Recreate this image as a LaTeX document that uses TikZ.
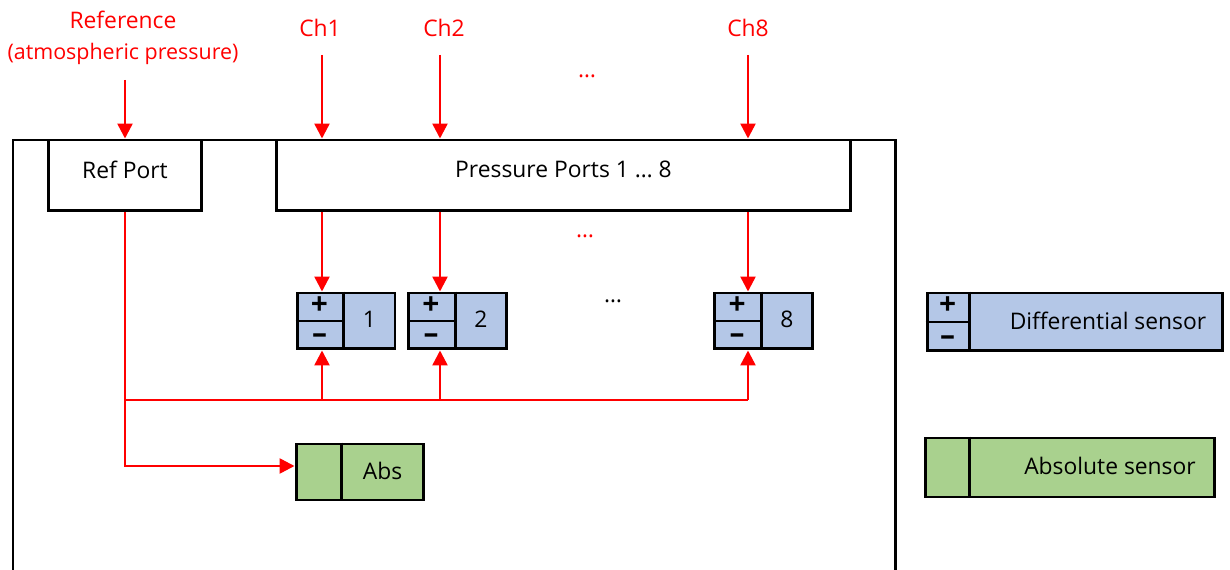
\documentclass[tikz,border=0pt]{standalone}
\usepackage{fontspec}
\setmainfont{Open Sans}
\usetikzlibrary{arrows.meta,calc}
\definecolor{arr}{RGB}{255,0,0}
\definecolor{dblue}{RGB}{180,199,231}
\definecolor{agreen}{RGB}{169,209,142}
\tikzset{
  box/.style={draw=black,line width=1.7pt,inner sep=0pt},
  lbl/.style={text=arr,font=\fontsize{13}{18}\selectfont,align=center},
  txt/.style={font=\fontsize{13}{16}\selectfont},
  pipe/.style={draw=arr,line width=1.4pt},
  parrow/.style={pipe,-{Triangle[width=8.5pt,length=8.5pt]}},
  sensor/.style={box,fill=dblue,minimum width=1.96cm,minimum height=1.12cm},
  abssensor/.style={box,fill=agreen,minimum width=2.56cm,minimum height=1.12cm},
  sign/.style={font=\fontsize{17}{18}\selectfont\bfseries,inner sep=0pt}
}
\begin{document}
\begin{tikzpicture}[x=0.02cm,y=-0.02cm]
\useasboundingbox (0,0) rectangle (1230,570);
\begin{scope}
\clip (0,0) rectangle (1230,570);
\draw[line width=1.7pt] (13,600) -- (13,140) -- (895,140) -- (895,600);
\end{scope}

% ports
\node[box,minimum width=3.08cm,minimum height=1.42cm,fill=white] (ref) at (125,175.5) {};
\node[txt] at ($(ref.center)+(0,-6)$) {Ref Port};
\node[box,minimum width=11.5cm,minimum height=1.42cm,fill=white] (pp) at (563.5,175.5) {};
\node[txt] at ($(pp.center)+(0,-6)$) {Pressure Ports 1 … 8};

% input labels
\node[lbl] (reflbl) at (123,38) {Reference\\{\fontsize{12.2}{18}\selectfont(atmospheric pressure)}};
\node[lbl] (ch1) at (320,28) {Ch1};
\node[lbl] (ch2) at (444,28) {Ch2};
\node[lbl] (ch8) at (748,28) {Ch8};
\node[lbl] (dots1) at (587,76) {…};
\node[lbl] (dots2) at (585,236) {…};
\node[txt] (dots3) at (613,301) {…};

\coordinate (rin) at (125,80);
\coordinate (c1in) at (322,55);
\coordinate (c2in) at (440,55);
\coordinate (c8in) at (748,55);
\draw[parrow] (rin) -- (rin |- ref.north);
\draw[parrow] (c1in) -- (c1in |- pp.north);
\draw[parrow] (c2in) -- (c2in |- pp.north);
\draw[parrow] (c8in) -- (c8in |- pp.north);

% sensors
\foreach \n/\cx/\lab in {s1/346/1, s2/457.5/2, s8/763.5/8}{
  \node[sensor] (\n) at (\cx,321) {};
  \draw[line width=1.7pt] ($(\n.north west)+(48,0)$) -- ($(\n.south west)+(48,0)$);
  \draw[line width=1.7pt] ($(\n.west)$) -- ($(\n.west)+(48,0)$);
  \node[sign] at ($(\n.north west)+(24,14)$) {+};
  \node[sign] at ($(\n.south west)+(24,-12)$) {–};
  \node[txt] at ($(\n.north west)+(74,28)$) {\lab};
}

% abs sensor
\node[abssensor] (abs) at (360,472) {};
\draw[line width=1.7pt] ($(abs.north west)+(47,0)$) -- ($(abs.south west)+(47,0)$);
\node[txt] at ($(abs.north west)+(88,28)$) {Abs};
\coordinate (absin) at ($(abs.west)+(0,-6)$);

% pipes to + side
\coordinate (t1) at (322,0);
\coordinate (t2) at (440,0);
\coordinate (t8) at (748,0);
\draw[parrow] (t1 |- pp.south) -- (t1 |- s1.north);
\draw[parrow] (t2 |- pp.south) -- (t2 |- s2.north);
\draw[parrow] (t8 |- pp.south) -- (t8 |- s8.north);

% reference manifold
\coordinate (j0) at (125,400);
\draw[pipe] (ref.south) -- (j0) -- (748,400);
\draw[parrow] (322,400) -- (t1 |- s1.south);
\draw[parrow] (440,400) -- (t2 |- s2.south);
\draw[parrow] (748,400) -- (t8 |- s8.south);
\draw[parrow] (j0) -- (j0 |- absin) -- (absin);

% legend
\node[box,fill=dblue,minimum width=5.92cm,minimum height=1.16cm] (ld) at (1075,322) {};
\draw[line width=1.7pt] ($(ld.north west)+(44,0)$) -- ($(ld.south west)+(44,0)$);
\draw[line width=1.7pt] (ld.west) -- ($(ld.west)+(44,0)$);
\node[sign] at ($(ld.north west)+(22,14)$) {+};
\node[sign] at ($(ld.south west)+(22,-12)$) {–};
\node[txt] at (1108,321) {Differential sensor};

\node[box,fill=agreen,minimum width=5.8cm,minimum height=1.18cm] (la) at (1070,467.5) {};
\draw[line width=1.7pt] ($(la.north west)+(46,0)$) -- ($(la.south west)+(46,0)$);
\node[txt] at (1110,466) {Absolute sensor};
\end{tikzpicture}
\end{document}
